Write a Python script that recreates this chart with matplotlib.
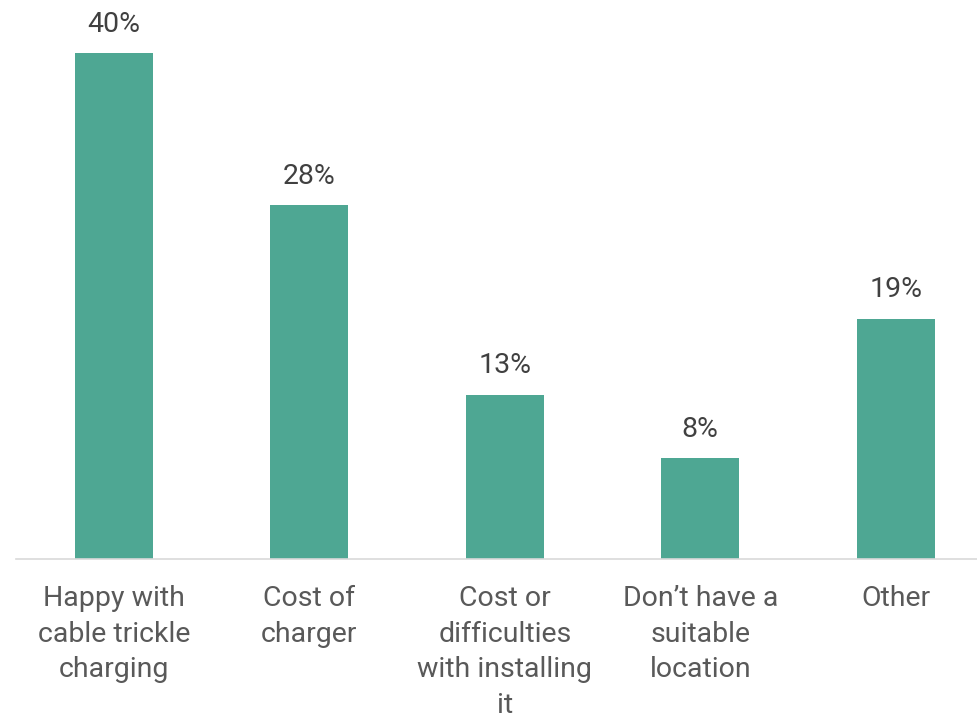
import matplotlib.pyplot as plt

plt.rcParams['font.family'] = ['Roboto', 'DejaVu Sans']

categories = ['Happy with\ncable trickle\ncharging', 'Cost of\ncharger',
              'Cost or\ndifficulties\nwith installing\nit', 'Don\u2019t have a\nsuitable\nlocation', 'Other']
values = [40, 28, 13, 8, 19]
labels = ['40%', '28%', '13%', '8%', '19%']

fig = plt.figure(figsize=(9.77, 7.2), dpi=100)
# axes: baseline at 559px, ~12.65 px per percentage point
ax = fig.add_axes([16 / 977, (720 - 559) / 720, 977.5 / 977, 44 * 12.65 / 720])

x = list(range(len(categories)))
bars = ax.bar(x, values, width=0.4, color='#4ea793')
ax.set_xlim(-0.5, 4.5)
ax.set_ylim(0, 44)

for b, lab in zip(bars, labels):
    ax.annotate(lab, (b.get_x() + b.get_width() / 2, b.get_height()),
                xytext=(0, 11), textcoords='offset points', ha='center', va='bottom',
                fontsize=20.5, color='#404040')

ax.set_xticks(x)
ax.set_xticklabels(categories, fontsize=20.5, color='#595959', linespacing=1.4)
ax.tick_params(axis='x', length=0, pad=19)
ax.set_yticks([])
for s in ['top', 'right', 'left']:
    ax.spines[s].set_visible(False)
ax.spines['bottom'].set_color('#d9d9d9')
ax.spines['bottom'].set_linewidth(1.2)

fig.savefig('out.png', dpi=100)
